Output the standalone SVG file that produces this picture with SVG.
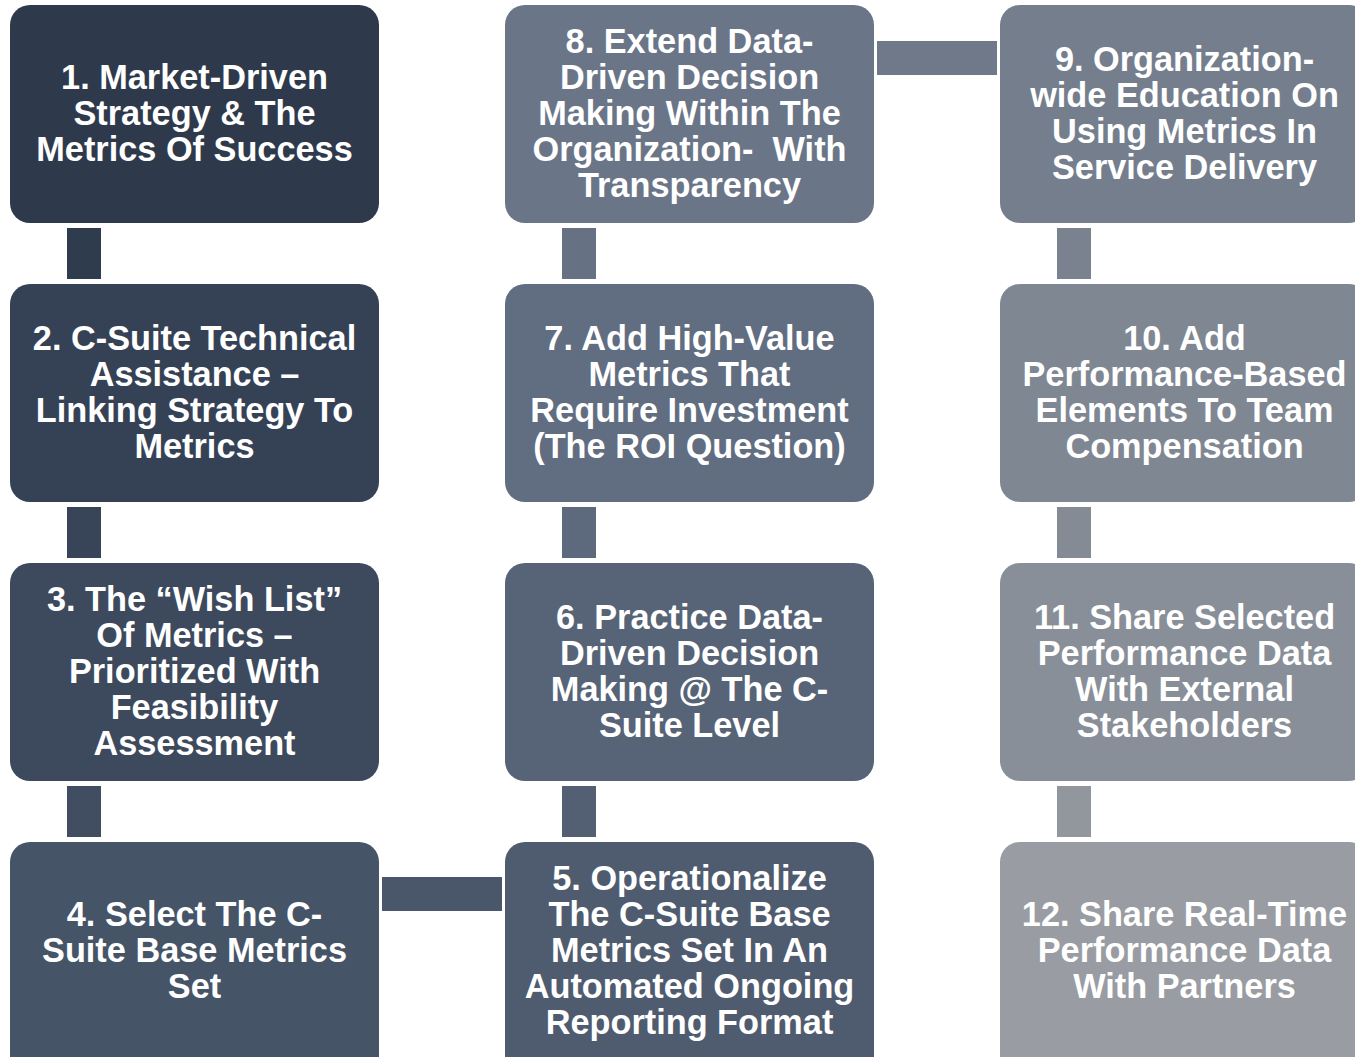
<svg xmlns="http://www.w3.org/2000/svg" width="1355" height="1057" viewBox="0 0 1355 1057">
  <style>
    .box { stroke: none; }
    .lbl { font-family: "Liberation Sans", Arial, sans-serif; font-weight: bold; font-size: 34.3px; fill: #ffffff; text-anchor: middle; white-space: pre; }
  </style>
  <rect width="1355" height="1057" fill="#ffffff"/>

  <!-- connectors -->
  <g id="connectors">
    <rect x="67" y="228" width="34" height="51" fill="#2f3c4e"/>
    <rect x="67" y="507" width="34" height="51" fill="#384558"/>
    <rect x="67" y="786" width="34" height="51" fill="#414e61"/>
    <rect x="382" y="877" width="120" height="34" fill="#4a576a"/>
    <rect x="562" y="786" width="34" height="51" fill="#536073"/>
    <rect x="562" y="507" width="34" height="51" fill="#5d697c"/>
    <rect x="562" y="228" width="34" height="51" fill="#667284"/>
    <rect x="877" y="41" width="120" height="34" fill="#6f798a"/>
    <rect x="1057" y="228" width="34" height="51" fill="#7a828f"/>
    <rect x="1057" y="507" width="34" height="51" fill="#848b95"/>
    <rect x="1057" y="786" width="34" height="51" fill="#92979e"/>
  </g>

  <g id="node1">
    <rect class="box" x="10" y="5" width="369" height="218" rx="20" fill="#2e3a4b"/>
    <text class="lbl" x="194.5" y="89">1. Market-Driven</text>
    <text class="lbl" x="194.5" y="125">Strategy &amp; The</text>
    <text class="lbl" x="194.5" y="161">Metrics Of Success</text>
  </g>
  <g id="node2">
    <rect class="box" x="10" y="284" width="369" height="218" rx="20" fill="#354256"/>
    <text class="lbl" x="194.5" y="350">2. C-Suite Technical</text>
    <text class="lbl" x="194.5" y="386">Assistance –</text>
    <text class="lbl" x="194.5" y="422">Linking Strategy To</text>
    <text class="lbl" x="194.5" y="458">Metrics</text>
  </g>
  <g id="node3">
    <rect class="box" x="10" y="563" width="369" height="218" rx="20" fill="#3d495c"/>
    <text class="lbl" x="194.5" y="611">3. The “Wish List”</text>
    <text class="lbl" x="194.5" y="647">Of Metrics –</text>
    <text class="lbl" x="194.5" y="683">Prioritized With</text>
    <text class="lbl" x="194.5" y="719">Feasibility</text>
    <text class="lbl" x="194.5" y="755">Assessment</text>
  </g>
  <g id="node4">
    <rect class="box" x="10" y="842" width="369" height="240" rx="20" fill="#465468"/>
    <text class="lbl" x="194.5" y="926">4. Select The C-</text>
    <text class="lbl" x="194.5" y="962">Suite Base Metrics</text>
    <text class="lbl" x="194.5" y="998">Set</text>
  </g>
  <g id="node5">
    <rect class="box" x="505" y="842" width="369" height="240" rx="20" fill="#4f5b6e"/>
    <text class="lbl" x="689.5" y="890">5. Operationalize</text>
    <text class="lbl" x="689.5" y="926">The C-Suite Base</text>
    <text class="lbl" x="689.5" y="962">Metrics Set In An</text>
    <text class="lbl" x="689.5" y="998">Automated Ongoing</text>
    <text class="lbl" x="689.5" y="1034">Reporting Format</text>
  </g>
  <g id="node6">
    <rect class="box" x="505" y="563" width="369" height="218" rx="20" fill="#576376"/>
    <text class="lbl" x="689.5" y="629">6. Practice Data-</text>
    <text class="lbl" x="689.5" y="665">Driven Decision</text>
    <text class="lbl" x="689.5" y="701">Making @ The C-</text>
    <text class="lbl" x="689.5" y="737">Suite Level</text>
  </g>
  <g id="node7">
    <rect class="box" x="505" y="284" width="369" height="218" rx="20" fill="#616d80"/>
    <text class="lbl" x="689.5" y="350">7. Add High-Value</text>
    <text class="lbl" x="689.5" y="386">Metrics That</text>
    <text class="lbl" x="689.5" y="422">Require Investment</text>
    <text class="lbl" x="689.5" y="458">(The ROI Question)</text>
  </g>
  <g id="node8">
    <rect class="box" x="505" y="5" width="369" height="218" rx="20" fill="#6a7588"/>
    <text class="lbl" x="689.5" y="53">8. Extend Data-</text>
    <text class="lbl" x="689.5" y="89">Driven Decision</text>
    <text class="lbl" x="689.5" y="125">Making Within The</text>
    <text class="lbl" x="689.5" y="161">Organization-  With</text>
    <text class="lbl" x="689.5" y="197">Transparency</text>
  </g>
  <g id="node9">
    <rect class="box" x="1000" y="5" width="369" height="218" rx="20" fill="#757e8d"/>
    <text class="lbl" x="1184.5" y="71">9. Organization-</text>
    <text class="lbl" x="1184.5" y="107">wide Education On</text>
    <text class="lbl" x="1184.5" y="143">Using Metrics In</text>
    <text class="lbl" x="1184.5" y="179">Service Delivery</text>
  </g>
  <g id="node10">
    <rect class="box" x="1000" y="284" width="369" height="218" rx="20" fill="#7f8793"/>
    <text class="lbl" x="1184.5" y="350">10. Add</text>
    <text class="lbl" x="1184.5" y="386">Performance-Based</text>
    <text class="lbl" x="1184.5" y="422">Elements To Team</text>
    <text class="lbl" x="1184.5" y="458">Compensation</text>
  </g>
  <g id="node11">
    <rect class="box" x="1000" y="563" width="369" height="218" rx="20" fill="#898f99"/>
    <text class="lbl" x="1184.5" y="629">11. Share Selected</text>
    <text class="lbl" x="1184.5" y="665">Performance Data</text>
    <text class="lbl" x="1184.5" y="701">With External</text>
    <text class="lbl" x="1184.5" y="737">Stakeholders</text>
  </g>
  <g id="node12">
    <rect class="box" x="1000" y="842" width="369" height="240" rx="20" fill="#999ca2"/>
    <text class="lbl" x="1184.5" y="926">12. Share Real-Time</text>
    <text class="lbl" x="1184.5" y="962">Performance Data</text>
    <text class="lbl" x="1184.5" y="998">With Partners</text>
  </g>
</svg>
